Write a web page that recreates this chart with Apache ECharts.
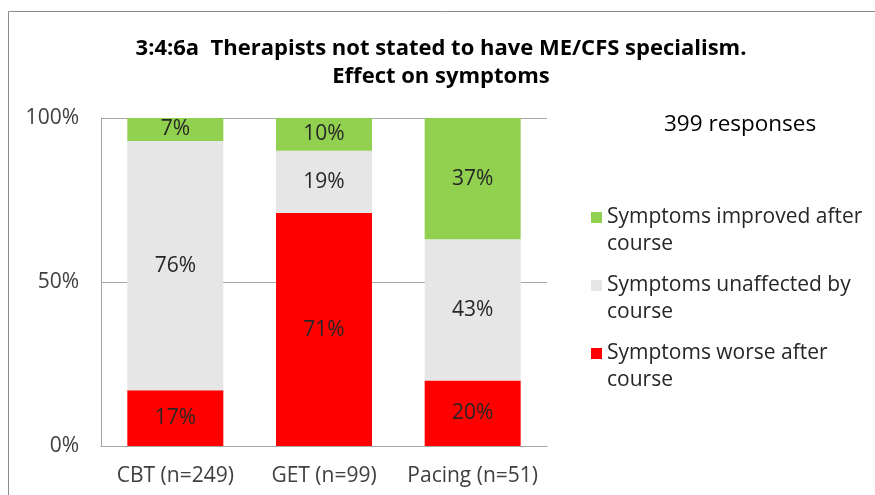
<!DOCTYPE html>
<html>
<head>
<meta charset="utf-8">
<script src="https://cdn.jsdelivr.net/npm/echarts@6/dist/echarts.min.js"></script>
<style>
  html, body { margin: 0; padding: 0; background: #fff; }
  #chart { width: 875px; height: 495px; }
</style>
</head>
<body>
<div id="chart"></div>
<script>
// categories and series (percent of responses)
var categories = ['CBT (n=249)', 'GET (n=99)', 'Pacing (n=51)'];
var worse = [17, 71, 20];
var unaffected = [76, 19, 43];
var improved = [7, 10, 37];
var seriesNames = ['Symptoms worse after course', 'Symptoms unaffected by course', 'Symptoms improved after course'];
var legendOrder = ['Symptoms improved after course', 'Symptoms unaffected by course', 'Symptoms worse after course'];

var FONT = 'Open Sans';

var chart = echarts.init(document.getElementById('chart'));

function barSeries(name, data, color) {
    return {
        name: name,
        type: 'bar',
        stack: 'total',
        barWidth: 96,
        data: data,
        itemStyle: { color: color },
        label: {
            show: true,
            position: 'inside',
            formatter: '{c}%',
            color: '#262626',
            fontFamily: FONT,
            fontSize: 21
        }
    };
}

chart.setOption({
    animation: false,
    title: [{
        text: '3:4:6a  Therapists not stated to have ME/CFS specialism.\nEffect on symptoms',
        left: 436,
        textAlign: 'center',
        top: 30,
        textStyle: {
            fontFamily: FONT,
            fontWeight: 'bold',
            fontSize: 22,
            lineHeight: 28,
            color: '#000'
        }
    }, {
        text: '399 responses',
        left: 659,
        top: 108,
        textStyle: {
            fontFamily: FONT,
            fontWeight: 'normal',
            fontSize: 22.5,
            color: '#000'
        }
    }],
    legend: {
        orient: 'vertical',
        left: 586,
        top: 172,
        itemWidth: 11,
        itemHeight: 11,
        itemGap: -13,
        icon: 'rect',
        data: legendOrder,
        // blank first line keeps the swatch level with the first text line
        formatter: function (name) {
            return ' \n' + name.replace(/ course$/, '\ncourse');
        },
        textStyle: {
            fontFamily: FONT,
            fontSize: 21,
            lineHeight: 27,
            color: '#262626'
        }
    },
    grid: {
        left: 101,
        right: 328,
        top: 118,
        bottom: 49,
        containLabel: false
    },
    xAxis: {
        type: 'category',
        data: categories,
        axisTick: { show: false },
        axisLine: { lineStyle: { color: '#A6A6A6', width: 1 } },
        axisLabel: {
            interval: 0,
            margin: 20,
            fontFamily: FONT,
            fontSize: 21,
            color: '#404040'
        }
    },
    yAxis: {
        type: 'value',
        min: 0,
        max: 100,
        interval: 50,
        axisLine: { show: true, lineStyle: { color: '#A6A6A6', width: 1 } },
        axisTick: { show: false },
        splitLine: { lineStyle: { color: '#A6A6A6', width: 1 } },
        axisLabel: {
            formatter: '{value}%',
            margin: 22,
            fontFamily: FONT,
            fontSize: 21,
            color: '#404040'
        }
    },
    graphic: [{
        type: 'rect',
        shape: { x: 8.5, y: 11.5, width: 900, height: 520 },
        style: { fill: 'none', stroke: '#8C8C8C', lineWidth: 1 },
        silent: true
    }],
    series: [
        barSeries(seriesNames[0], worse, '#FF0000'),
        barSeries(seriesNames[1], unaffected, '#E6E6E6'),
        barSeries(seriesNames[2], improved, '#92D050')
    ]
});
</script>
</body>
</html>
